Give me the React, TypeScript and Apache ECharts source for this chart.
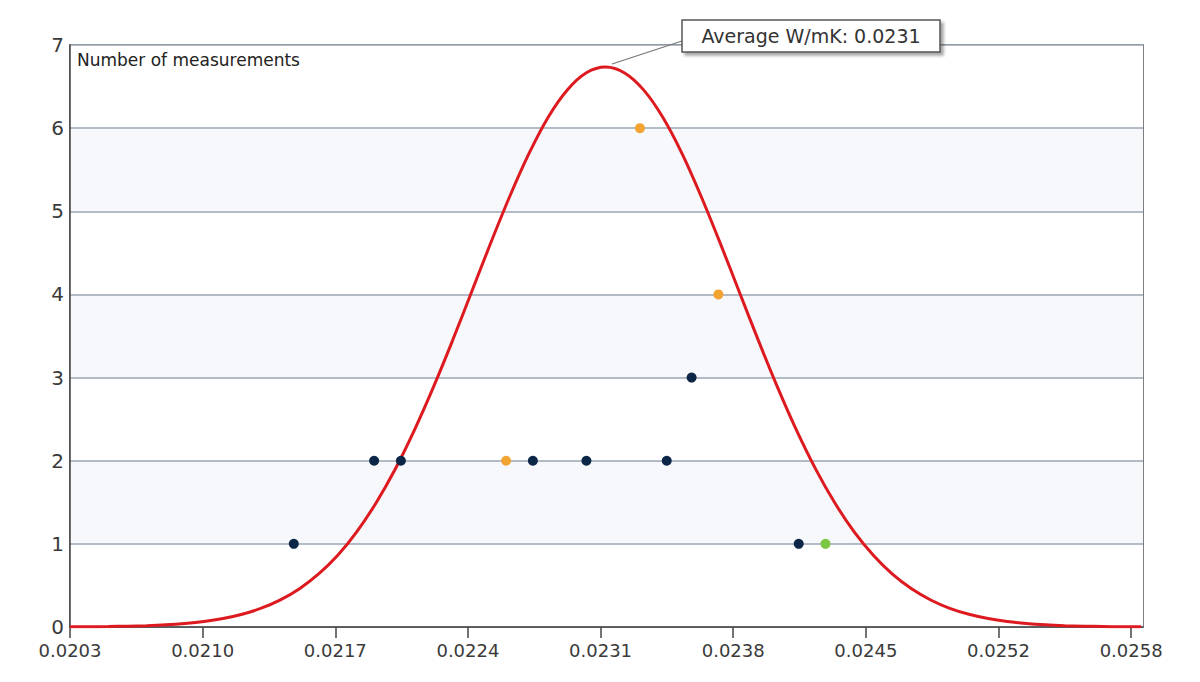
import React, { useEffect, useRef } from "react";
import * as echarts from "echarts";

// X axis ticks (W/mK) and their labels
const xTickValues = [0.0203, 0.0209935, 0.021687, 0.0223805, 0.023074, 0.0237675, 0.024461, 0.0251545, 0.025848];
const xTickLabels = ["0.0203", "0.0210", "0.0217", "0.0224", "0.0231", "0.0238", "0.0245", "0.0252", "0.0258"];
const xMin = 0.0203;
const xMax = 0.02591;

// Fitted distribution curve
const curveX = [
  0.0203, 0.0204, 0.0205, 0.0206, 0.0207, 0.0208, 0.0209, 0.021, 0.0211, 0.0212,
  0.0213, 0.0214, 0.0215, 0.0216, 0.0217, 0.0218, 0.0219, 0.022, 0.0221, 0.0222,
  0.0223, 0.0224, 0.0225, 0.0226, 0.0227, 0.0228, 0.0229, 0.023, 0.0231, 0.0232,
  0.0233, 0.0234, 0.0235, 0.0236, 0.0237, 0.0238, 0.0239, 0.024, 0.0241, 0.0242,
  0.0243, 0.0244, 0.0245, 0.0246, 0.0247, 0.0248, 0.0249, 0.025, 0.0251, 0.0252,
  0.0253, 0.0254, 0.0255, 0.0256, 0.0257, 0.0258, 0.0259,
];
const curveY = [
  0.002, 0.003, 0.006, 0.01, 0.016, 0.026, 0.042, 0.066, 0.102, 0.154,
  0.226, 0.326, 0.461, 0.638, 0.863, 1.148, 1.492, 1.897, 2.365, 2.885,
  3.445, 4.032, 4.621, 5.184, 5.696, 6.132, 6.46, 6.666, 6.735, 6.664,
  6.457, 6.128, 5.694, 5.178, 4.614, 4.026, 3.441, 2.879, 2.359, 1.893,
  1.488, 1.144, 0.863, 0.635, 0.459, 0.325, 0.225, 0.153, 0.102, 0.066,
  0.042, 0.026, 0.016, 0.01, 0.006, 0.003, 0.002,
];

// Measurements
const navyX = [0.02147, 0.02189, 0.02203, 0.02272, 0.023, 0.02342, 0.02355, 0.02411];
const navyY = [1, 2, 2, 2, 2, 2, 3, 1];
const orangeX = [0.02258, 0.02328, 0.02369];
const orangeY = [2, 6, 4];
const greenX = [0.02425];
const greenY = [1];

const yTitle = "Number of measurements";
const averageLabel = "Average W/mK: 0.0231";

const FONT = "'DejaVu Sans', Verdana, sans-serif";

function pairs(xs: number[], ys: number[]) {
  return xs.map((x, i) => [x, ys[i]]);
}

export default function App() {
  const ref = useRef<HTMLDivElement>(null);
  useEffect(() => {
    if (!ref.current) return;
    const chart = echarts.init(ref.current, null, { renderer: "svg" });
    chart.setOption({
      animation: false,
      backgroundColor: "#ffffff",
      grid: {
        left: 70,
        right: 57,
        top: 45,
        bottom: 55,
        show: true,
        borderColor: "#555555",
        borderWidth: 1.5,
        backgroundColor: "transparent",
        outerBoundsMode: "none",
      },
      xAxis: {
        type: "value",
        min: xMin,
        max: xMax,
        axisLine: { show: true, onZero: false, lineStyle: { color: "#444444", width: 1.5 } },
        axisTick: {
          show: true,
          customValues: xTickValues,
          length: 11,
          lineStyle: { color: "#444444", width: 1.5 },
        },
        axisLabel: {
          customValues: xTickValues,
          margin: 14,
          color: "#3a3a3a",
          fontFamily: FONT,
          fontSize: 18,
          formatter: (v: number) => {
            const i = xTickValues.findIndex((t) => Math.abs(t - v) < 1e-7);
            return i >= 0 ? xTickLabels[i] : "";
          },
        },
        splitLine: { show: false },
      },
      yAxis: {
        type: "value",
        min: 0,
        max: 7,
        interval: 1,
        axisLine: { show: true, lineStyle: { color: "#444444", width: 1.5 } },
        axisTick: { show: false },
        axisLabel: { margin: 6, color: "#3a3a3a", fontFamily: FONT, fontSize: 20 },
        splitLine: { show: true, lineStyle: { color: "#9aa6b2", width: 1.5 } },
        splitArea: { show: true, areaStyle: { color: ["#ffffff", "#f6f8fc"] } },
      },
      series: [
        {
          type: "line",
          data: pairs(curveX, curveY),
          smooth: 0.3,
          symbol: "none",
          lineStyle: { color: "#dd1a1f", width: 3 },
          z: 2,
        },
        {
          type: "scatter",
          data: pairs(navyX, navyY),
          symbolSize: 10,
          itemStyle: { color: "#0c2647", opacity: 1 },
          z: 3,
        },
        {
          type: "scatter",
          data: pairs(orangeX, orangeY),
          symbolSize: 10,
          itemStyle: { color: "#f2a432", opacity: 1 },
          z: 3,
        },
        {
          type: "scatter",
          data: pairs(greenX, greenY),
          symbolSize: 10,
          itemStyle: { color: "#7cc742", opacity: 1 },
          z: 3,
        },
      ],
      graphic: [
        {
          type: "text",
          left: 77,
          top: 51,
          style: { text: yTitle, fill: "#222222", font: `17px ${FONT}` },
          z: 10,
        },
        {
          type: "line",
          shape: { x1: 682, y1: 41, x2: 612, y2: 64 },
          style: { stroke: "#777777", lineWidth: 1.3 },
          z: 10,
        },
        {
          type: "rect",
          shape: { x: 682, y: 20, width: 258, height: 32 },
          style: {
            fill: "#ffffff",
            stroke: "#555555",
            lineWidth: 1.5,
            shadowColor: "rgba(0,0,0,0.35)",
            shadowBlur: 3,
            shadowOffsetX: 3,
            shadowOffsetY: 3,
          },
          z: 11,
        },
        {
          type: "text",
          x: 811,
          y: 36,
          style: {
            text: averageLabel,
            fill: "#333333",
            font: `19px ${FONT}`,
            align: "center",
            verticalAlign: "middle",
          },
          z: 12,
        },
      ],
    });
    return () => chart.dispose();
  }, []);
  return (
    <div
      ref={ref}
      style={{ position: "absolute", left: 0, top: 0, width: 1200, height: 682, background: "#fff" }}
    />
  );
}
